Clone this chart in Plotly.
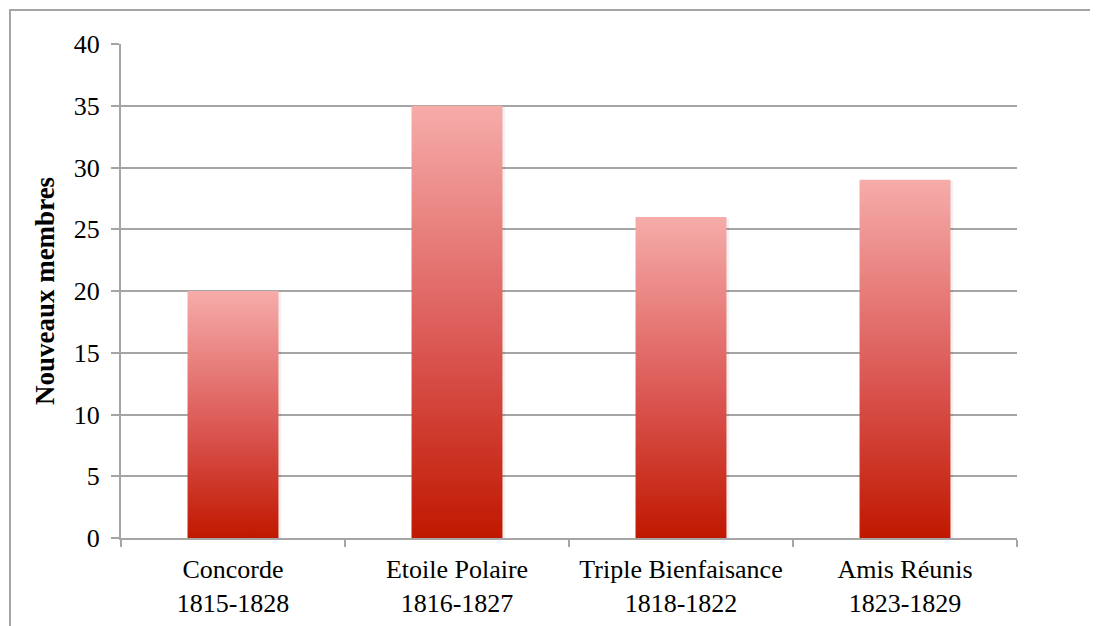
import plotly.graph_objects as go

categories = ["Concorde<br>1815-1828", "Etoile Polaire<br>1816-1827",
              "Triple Bienfaisance<br>1818-1822", "Amis Réunis<br>1823-1829"]
values = [20, 35, 26, 29]
y_ticks = [0, 5, 10, 15, 20, 25, 30, 35, 40]

GRID = "#A5A5A5"
FONT = "Liberation Serif"
half = 0.203
colorscale = [[0.0, "rgb(192,24,0)"], [0.45, "rgb(219,88,84)"], [1.0, "rgb(246,172,170)"]]

fig = go.Figure()
for i, v in enumerate(values):
    xs = [i - half, i + half, i + half, i - half, i - half]
    ys = [0, 0, v, v, 0]
    # faint shadow
    fig.add_trace(go.Scatter(
        x=[x + 0.012 for x in xs], y=[y - 0.25 if y == 0 else y - 0.1 for y in ys],
        mode="lines", fill="toself", fillcolor="rgba(0,0,0,0.06)",
        line=dict(width=0), hoverinfo="skip", showlegend=False))
    fig.add_trace(go.Scatter(
        x=xs, y=ys, mode="lines", fill="toself",
        fillgradient=dict(type="vertical", colorscale=colorscale, start=0, stop=v),
        line=dict(width=0), showlegend=False, name=categories[i].replace("<br>", " ")))

fig.update_layout(
    width=1098, height=626,
    margin=dict(l=113, r=89, t=36, b=96),
    paper_bgcolor="white", plot_bgcolor="white",
    font=dict(family=FONT, size=26, color="black"),
    xaxis=dict(range=[-0.5, 3.5], tickmode="array", tickvals=[0, 1, 2, 3],
               ticktext=categories, ticks="", showgrid=False, zeroline=False,
               showline=True, linecolor=GRID, linewidth=2, ticklabelstandoff=7,
               minor=dict(tick0=-0.5, dtick=1, ticks="outside", ticklen=7,
                          tickcolor=GRID, tickwidth=2, showgrid=False),
               tickfont=dict(family=FONT, size=26)),
    yaxis=dict(range=[0, 40], tickmode="array", tickvals=y_ticks,
               ticks="outside", ticklen=8, tickcolor=GRID, tickwidth=2,
               showgrid=True, gridcolor=GRID, gridwidth=2, zeroline=False,
               showline=True, linecolor=GRID, linewidth=2, ticklabelstandoff=6,
               tickfont=dict(family=FONT, size=26),
               title=dict(text="<b>Nouveaux membres</b>", font=dict(family=FONT, size=27),
                          standoff=11)),
    shapes=[dict(type="rect", xref="paper", yref="paper",
                 x0=-0.1239, x1=1.3, y0=-0.3, y1=1.0688,
                 line=dict(color=GRID, width=2), fillcolor="rgba(0,0,0,0)", layer="below")],
)

fig.write_html("out.html")
